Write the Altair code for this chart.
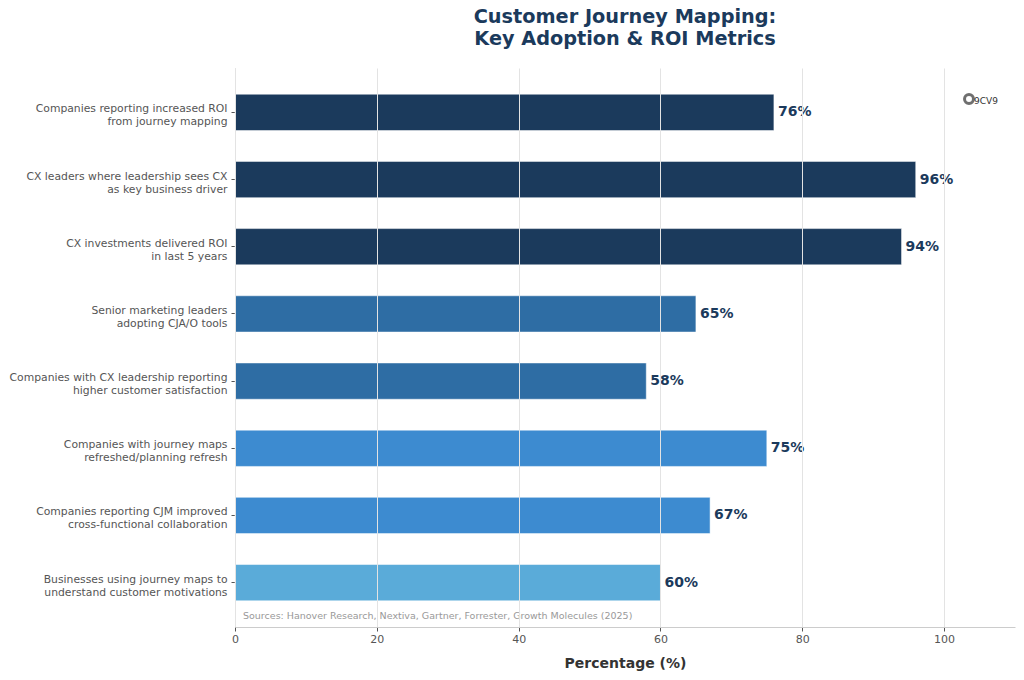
import altair as alt
import pandas as pd

categories = [
    "Companies reporting increased ROI|from journey mapping",
    "CX leaders where leadership sees CX|as key business driver",
    "CX investments delivered ROI|in last 5 years",
    "Senior marketing leaders|adopting CJA/O tools",
    "Companies with CX leadership reporting|higher customer satisfaction",
    "Companies with journey maps|refreshed/planning refresh",
    "Companies reporting CJM improved|cross-functional collaboration",
    "Businesses using journey maps to|understand customer motivations",
]
values = [76, 96, 94, 65, 58, 75, 67, 60]
colors = ["#1b3a5c", "#1b3a5c", "#1b3a5c", "#2e6da4", "#2e6da4", "#3d8bd0", "#3d8bd0", "#5aabd9"]

df = pd.DataFrame({"cat": categories, "val": values, "color": colors})
df["label"] = df["val"].astype(str) + "%"

FONT = "DejaVu Sans"

y_enc = alt.Y(
    "cat:N",
    sort=categories,
    scale=alt.Scale(paddingInner=0.46, paddingOuter=0.39),
    axis=alt.Axis(
        title=None,
        labelExpr="split(datum.label, '|')",
        labelFontSize=10.8,
        labelColor="#555555",
        labelFont=FONT,
        labelLineHeight=13,
        labelOffset=-3,
        tickSize=4,
        tickColor="#555555",
        labelPadding=4,
        domainColor="#cccccc",
        grid=False,
        labelLimit=300,
    ),
)

x_enc = alt.X(
    "val:Q",
    scale=alt.Scale(domain=[0, 110], nice=False),
    axis=alt.Axis(
        title="Percentage (%)",
        values=[0, 20, 40, 60, 80, 100],
        titleFontSize=14,
        titleFontWeight="bold",
        titleColor="#333333",
        titleFont=FONT,
        titlePadding=12,
        labelFontSize=11,
        labelColor="#555555",
        labelFont=FONT,
        labelFlush=False,
        tickSize=4,
        tickColor="#555555",
        domainColor="#cccccc",
        grid=True,
        gridColor="#e3e3e3",
        gridWidth=1,
        zindex=1,
    ),
)

bars = alt.Chart(df).mark_bar(stroke="white", strokeWidth=0.5).encode(
    x=x_enc,
    y=y_enc,
    color=alt.Color("color:N", scale=None),
)

texts = alt.Chart(df).mark_text(
    align="left", baseline="middle", dx=4, fontSize=14, fontWeight="bold",
    color="#1b3a5c", font=FONT,
).encode(
    x="val:Q",
    y=alt.Y("cat:N", sort=categories),
    text="label:N",
)

source = alt.Chart(pd.DataFrame({"t": ["Sources: Hanover Research, Nextiva, Gartner, Forrester, Growth Molecules (2025)"]})).mark_text(
    align="left", baseline="middle", fontSize=9.5, color="#999999", font=FONT,
).encode(x=alt.value(8), y=alt.value(548), text="t:N")

logo_df = pd.DataFrame({"t": ["9CV9"]})
logo_circle = alt.Chart(logo_df).mark_point(
    shape="circle", size=80, filled=False, strokeWidth=3, color="#333333"
).encode(x=alt.value(734), y=alt.value(31))
logo_text = alt.Chart(logo_df).mark_text(
    align="left", baseline="middle", fontSize=9, color="#333333", font=FONT,
).encode(x=alt.value(739), y=alt.value(33), text="t:N")

chart = alt.layer(bars, texts, source, logo_circle, logo_text).properties(
    width=780,
    height=559,
    title=alt.TitleParams(
        text=["Customer Journey Mapping:", "Key Adoption & ROI Metrics"],
        fontSize=19.3,
        fontWeight="bold",
        color="#1b3a5c",
        font=FONT,
        anchor="middle",
        lineHeight=22,
        offset=19,
    ),
    autosize=alt.AutoSizeParams(type="none"),
    padding={"left": 235, "top": 68, "right": 9, "bottom": 53},
).configure(background="white").configure_view(stroke=None, strokeWidth=0)

chart.save("out.html", embed_options={"renderer": "svg", "actions": False})
